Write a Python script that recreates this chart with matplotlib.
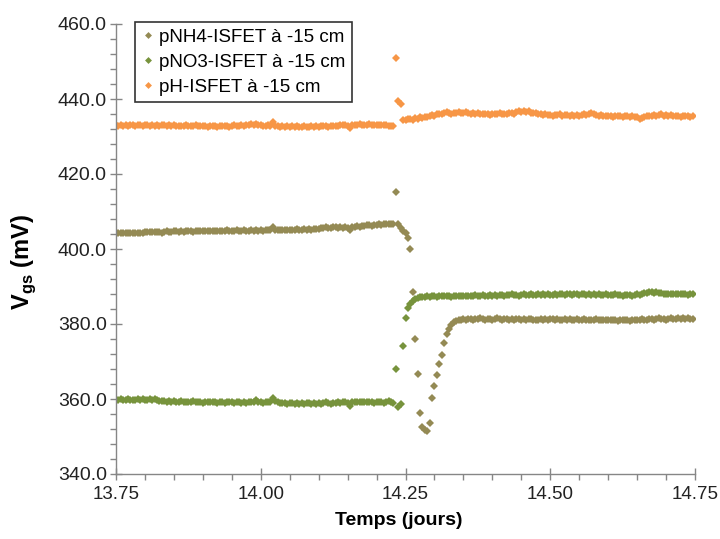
import numpy as np
import matplotlib
matplotlib.use("Agg")
import matplotlib.pyplot as plt
from matplotlib.ticker import MultipleLocator, FormatStrFormatter

plt.rcParams["font.family"] = ["Liberation Sans", "DejaVu Sans"]
plt.rcParams["mathtext.fontset"] = "custom"
plt.rcParams["mathtext.rm"] = "Liberation Sans"
plt.rcParams["mathtext.bf"] = "Liberation Sans:bold"

# sampling: one reading every 6 min starting at day 13.75
t_start = 13.75
samples_per_day = 240

labels = ["pNH4-ISFET à -15 cm", "pNO3-ISFET à -15 cm", "pH-ISFET à -15 cm"]
colors = ["#948A54", "#77933C", "#F79646"]

pnh4 = [
    404.3, 404.4, 404.3, 404.4, 404.3, 404.4, 404.3, 404.3, 404.4, 404.3,
    404.4, 404.3, 404.5, 404.6, 404.5, 404.6, 404.5, 404.6, 404.5, 404.4,
    404.6, 404.7, 404.6, 404.6, 404.8, 404.7, 404.6, 404.7, 404.6, 404.8,
    404.7, 404.7, 404.6, 404.8, 404.7, 404.8, 404.9, 404.7, 404.8, 404.8,
    404.9, 404.8, 404.7, 404.9, 404.8, 404.9, 405.0, 404.8, 404.9, 404.8,
    405.0, 404.9, 404.8, 405.0, 404.9, 404.8, 405.0, 404.9, 405.1, 404.9,
    405.0, 404.9, 405.1, 405.2, 405.0, 405.8, 405.1, 405.0, 405.1, 405.0,
    405.2, 405.1, 405.0, 405.2, 405.1, 405.3, 405.2, 405.1, 405.3, 405.2,
    405.4, 405.2, 405.3, 405.4, 405.3, 405.5, 405.6, 405.8, 405.7, 405.6,
    405.8, 405.9, 405.7, 405.9, 405.6, 405.8, 405.7, 405.2, 405.9, 406.0,
    406.1, 406.0, 406.2, 406.1, 406.3, 406.4, 406.2, 406.4, 406.5, 406.6,
    406.5, 406.7, 406.6, 406.8, 406.7, 406.8,
    415.3, 406.6, 405.5, 404.9, 404.3, 402.9, 399.9, 388.6, 376.1, 366.8,
    356.2, 352.6, 351.8, 351.6, 353.7, 360.3, 363.5, 366.5, 369.3, 371.8,
    375.0, 377.3, 378.8, 379.8, 380.5, 380.9,
    381.1, 381.2, 381.3, 381.2, 381.4, 381.3, 381.2, 381.4, 381.3, 381.5,
    381.3, 381.2, 381.4, 381.3, 381.2, 381.4, 381.5, 381.3, 381.2, 381.3,
    381.4, 381.2, 381.3, 381.1, 381.3, 381.4, 381.2, 381.3, 381.2, 381.4,
    381.3, 381.2, 381.0, 381.2, 381.3, 381.1, 381.3, 381.2, 381.4, 381.3,
    381.2, 381.3, 381.1, 381.2, 381.3, 381.2, 381.4, 381.1, 381.2, 381.3,
    381.2, 381.1, 381.3, 381.2, 381.0, 381.2, 381.1, 381.3, 381.2, 381.1,
    381.2, 381.0, 381.1, 381.2, 381.0, 381.1, 380.9, 381.1, 381.0, 381.2,
    381.0, 380.9, 381.1, 381.0, 381.2, 381.1, 381.3, 381.2, 381.1, 381.3,
    381.4, 381.2, 381.3, 381.5, 381.3, 381.4, 381.2, 381.3, 381.5, 381.4,
    381.3, 381.5, 381.4, 381.6, 381.4, 381.5, 381.3, 381.4,
]

pno3 = [
    359.8, 359.7, 359.9, 359.8, 359.7, 359.9, 359.8, 359.7, 359.8, 359.9,
    359.8, 359.9, 359.8, 359.7, 359.9, 359.8, 359.9, 359.7, 359.5, 359.4,
    359.5, 359.3, 359.4, 359.2, 359.4, 359.3, 359.2, 359.4, 359.3, 359.1,
    359.3, 359.2, 359.4, 359.1, 359.3, 359.2, 359.0, 359.3, 359.1, 359.2,
    359.1, 359.3, 359.0, 359.2, 359.1, 359.0, 359.2, 359.1, 359.3, 359.0,
    359.1, 359.2, 359.0, 359.1, 359.0, 359.2, 359.1, 359.3, 359.8, 359.2,
    359.1, 359.0, 359.2, 359.1, 359.3, 360.2, 359.4, 359.1, 359.0, 358.9,
    359.0, 358.8, 358.9, 359.0, 358.8, 358.9, 358.7, 358.9, 358.8, 359.0,
    358.9, 358.8, 358.9, 358.7, 358.9, 358.8, 359.0, 359.2, 358.9, 358.8,
    359.0, 358.9, 359.1, 359.0, 359.1, 359.3, 358.9, 358.2, 359.2, 359.3,
    359.2, 359.3, 359.1, 359.2, 359.3, 359.1, 359.2, 359.0, 359.2, 359.1,
    359.2, 359.0, 359.2, 359.4, 359.3, 359.0,
    367.9, 358.0, 358.7, 374.2, 381.5, 384.2, 385.4, 386.2, 386.7, 387.0,
    387.2, 387.3, 387.2, 387.4, 387.3, 387.5, 387.4, 387.3, 387.5, 387.4,
    387.6, 387.4, 387.5, 387.3, 387.6, 387.5,
    387.5, 387.4, 387.6, 387.5, 387.4, 387.6, 387.5, 387.7, 387.5, 387.6,
    387.7, 387.5, 387.6, 387.8, 387.6, 387.7, 387.6, 387.8, 387.7, 387.6,
    387.8, 387.7, 387.9, 387.7, 387.8, 387.6, 387.8, 387.9, 387.7, 387.8,
    387.9, 387.8, 387.7, 387.9, 387.8, 388.0, 387.8, 387.9, 387.8, 387.7,
    387.9, 387.8, 388.0, 387.9, 387.8, 388.0, 387.9, 387.8, 388.0, 387.9,
    387.8, 387.9, 388.0, 387.8, 387.9, 387.7, 387.9, 387.8, 387.9, 387.8,
    387.7, 387.9, 387.8, 387.7, 387.8, 387.9, 387.7, 387.8, 387.6, 387.8,
    387.7, 387.8, 387.6, 387.8, 387.9, 387.8, 388.1, 388.3, 388.2, 388.5,
    388.6, 388.4, 388.5, 388.3, 388.2, 388.0, 388.1, 387.9, 388.0, 387.9,
    388.0, 387.9, 388.1, 387.9, 388.0, 387.8, 387.9, 388.0,
]

ph = [
    433.0, 432.9, 433.1, 432.8, 433.0, 432.9, 433.1, 433.0, 432.8, 433.0,
    433.1, 432.9, 433.0, 433.2, 432.9, 433.0, 432.8, 433.1, 432.9, 433.0,
    433.2, 432.9, 433.1, 432.8, 433.0, 432.9, 432.7, 432.9, 432.8, 433.0,
    432.9, 432.7, 432.8, 433.0, 432.8, 432.7, 432.9, 432.8, 432.6, 432.8,
    432.7, 432.9, 432.6, 432.8, 432.7, 432.9, 432.8, 432.6, 432.8, 433.0,
    432.8, 432.9, 433.1, 432.9, 433.2, 433.0, 433.3, 433.1, 433.4, 433.2,
    433.0, 432.9, 432.8, 433.0, 432.8, 433.9, 432.9, 432.7, 432.6, 432.8,
    432.6, 432.7, 432.5, 432.7, 432.6, 432.8, 432.6, 432.5, 432.7, 432.6,
    432.5, 432.7, 432.6, 432.8, 432.6, 432.7, 432.9, 432.7, 432.6, 432.8,
    432.7, 432.9, 432.8, 433.0, 433.2, 433.1, 432.8, 432.3, 433.0, 433.2,
    433.1, 433.3, 433.2, 433.0, 433.2, 433.3, 433.1, 433.2, 433.0, 433.1,
    433.2, 433.0, 433.1, 432.9, 432.7, 432.8,
    451.0, 439.5, 438.8, 434.5, 434.3, 434.6, 434.8, 434.5, 435.0, 434.8,
    435.2, 435.0, 435.3, 435.1, 435.5, 435.8, 435.6, 435.9, 436.1, 435.9,
    436.2, 436.5, 436.3, 436.0, 436.2, 436.4,
    436.5, 436.2, 436.4, 436.6, 436.3, 436.1, 436.3, 436.0, 436.2, 436.0,
    435.9, 436.1, 436.0, 435.8, 436.1, 435.9, 436.0, 436.2, 435.9, 436.1,
    436.0, 436.2, 436.4, 436.1, 436.5, 436.8, 436.6, 436.9, 436.5, 436.7,
    436.4, 436.2, 436.3, 436.0, 436.1, 435.8, 435.9, 435.7, 435.8, 435.6,
    435.8, 435.7, 435.9, 435.6, 435.8, 435.7, 435.5, 435.8, 435.6, 435.7,
    435.5, 435.7, 435.9, 435.8, 436.1, 436.3, 436.0, 435.8, 435.6, 435.7,
    435.5, 435.6, 435.4, 435.6, 435.3, 435.5, 435.4, 435.6, 435.3, 435.5,
    435.4, 435.2, 435.5, 435.3, 435.1, 434.7, 435.0, 435.3, 435.5, 435.4,
    435.6, 435.8, 435.5, 435.7, 435.9, 435.6, 435.8, 435.5, 435.7, 435.4,
    435.6, 435.5, 435.3, 435.6, 435.4, 435.5, 435.3, 435.4,
]

series = [pnh4, pno3, ph]

fig = plt.figure(figsize=(7.2, 5.39), dpi=100)
ax = fig.add_axes([116 / 720, 1 - 474 / 539, 579 / 720, 450 / 539])

for vals, lab, col in zip(series, labels, colors):
    t = t_start + np.arange(len(vals)) / samples_per_day
    ax.plot(t, vals, linestyle="none", marker="D", markersize=3.9,
            markeredgewidth=0, color=col, label=lab)

ax.set_xlim(13.75, 14.75)
ax.set_ylim(340, 460)
ax.xaxis.set_major_locator(MultipleLocator(0.25))
ax.xaxis.set_minor_locator(MultipleLocator(0.05))
ax.yaxis.set_major_locator(MultipleLocator(20))
ax.yaxis.set_minor_locator(MultipleLocator(4))
ax.xaxis.set_major_formatter(FormatStrFormatter("%.2f"))
ax.yaxis.set_major_formatter(FormatStrFormatter("%.1f"))

axis_gray = "#868686"
for side in ["top", "right"]:
    ax.spines[side].set_visible(False)
for side in ["left", "bottom"]:
    ax.spines[side].set_color(axis_gray)
    ax.spines[side].set_linewidth(1.0)

ax.tick_params(which="major", direction="inout", length=9, width=1,
               color=axis_gray, labelsize=13.5, labelcolor="#222222")
ax.tick_params(axis="y", which="major", labelsize=14, pad=2)
ax.tick_params(axis="x", which="major", pad=4)
ax.tick_params(which="minor", direction="out", length=4, width=1,
               color=axis_gray)

ax.set_xlabel("Temps (jours)", fontsize=14, fontweight="bold")
ax.set_ylabel(r"V$_{\mathbf{gs}}$ (mV)", fontsize=17, fontweight="bold")
ax.xaxis.set_label_coords(0.488, -0.085)
ax.yaxis.set_label_coords(-0.135, 0.47)

leg = ax.legend(loc="upper left", bbox_to_anchor=(135 / 720, 1 - 22 / 539),
                bbox_transform=fig.transFigure, borderaxespad=0,
                fontsize=13.5, frameon=True, fancybox=False,
                handlelength=0.7, handletextpad=0.25, labelspacing=0.42,
                borderpad=0.35, markerscale=0.9)
leg.get_frame().set_edgecolor("black")
leg.get_frame().set_linewidth(1.2)

fig.savefig("out.png", dpi=100)
